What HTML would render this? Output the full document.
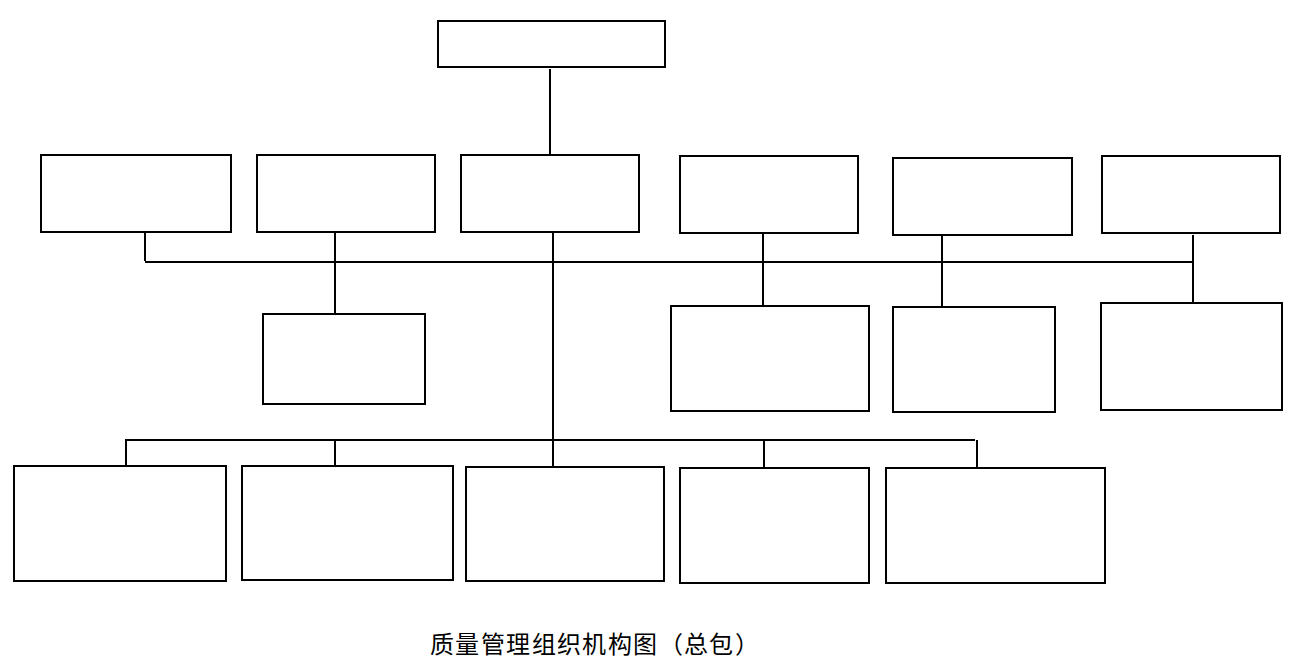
<!DOCTYPE html>
<html lang="zh-CN">
<head>
<meta charset="utf-8">
<style>
html,body{margin:0;padding:0;background:#fff;}
body{width:1300px;height:666px;position:relative;overflow:hidden;font-family:"Liberation Serif",serif;}
.b{position:absolute;box-sizing:border-box;border:2px solid #000;background:#fff;}
.l{position:absolute;background:#000;}
.cap{position:absolute;left:430px;top:627px;font-size:24px;font-weight:500;letter-spacing:1.4px;line-height:36px;white-space:nowrap;color:#000;}
</style>
</head>
<body>
<!-- lines -->
<div class="l" style="left:549px;top:69px;width:2px;height:85px"></div>
<div class="l" style="left:145px;top:261px;width:1049px;height:2px"></div>
<div class="l" style="left:144px;top:233px;width:2px;height:28px"></div>
<div class="l" style="left:334px;top:233px;width:2px;height:80px"></div>
<div class="l" style="left:552px;top:233px;width:2px;height:233px"></div>
<div class="l" style="left:762px;top:234px;width:2px;height:71px"></div>
<div class="l" style="left:941px;top:236px;width:2px;height:70px"></div>
<div class="l" style="left:1192px;top:235px;width:2px;height:67px"></div>
<div class="l" style="left:125px;top:439px;width:850px;height:2px"></div>
<div class="l" style="left:125px;top:439px;width:2px;height:26px"></div>
<div class="l" style="left:334px;top:441px;width:2px;height:24px"></div>
<div class="l" style="left:763px;top:441px;width:2px;height:26px"></div>
<div class="l" style="left:976px;top:440px;width:2px;height:27px"></div>
<!-- boxes -->
<div class="b" style="left:437px;top:20px;width:229px;height:48px"></div>
<div class="b" style="left:40px;top:154px;width:192px;height:79px"></div>
<div class="b" style="left:256px;top:154px;width:180px;height:79px"></div>
<div class="b" style="left:460px;top:154px;width:180px;height:79px"></div>
<div class="b" style="left:679px;top:155px;width:180px;height:79px"></div>
<div class="b" style="left:892px;top:157px;width:181px;height:79px"></div>
<div class="b" style="left:1101px;top:155px;width:180px;height:79px"></div>
<div class="b" style="left:262px;top:313px;width:164px;height:92px"></div>
<div class="b" style="left:670px;top:305px;width:200px;height:107px"></div>
<div class="b" style="left:892px;top:306px;width:164px;height:107px"></div>
<div class="b" style="left:1100px;top:302px;width:183px;height:109px"></div>
<div class="b" style="left:13px;top:465px;width:214px;height:117px"></div>
<div class="b" style="left:241px;top:465px;width:213px;height:116px"></div>
<div class="b" style="left:465px;top:466px;width:200px;height:116px"></div>
<div class="b" style="left:679px;top:467px;width:191px;height:117px"></div>
<div class="b" style="left:885px;top:467px;width:221px;height:117px"></div>
<div class="cap">质量管理组织机构图（总包）</div>
</body>
</html>
